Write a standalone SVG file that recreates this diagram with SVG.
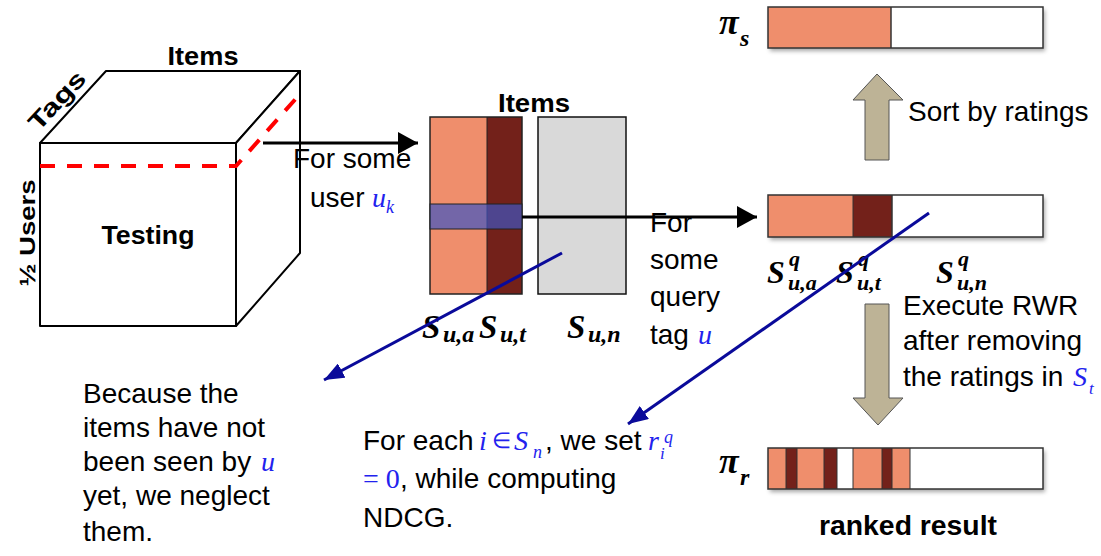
<svg xmlns="http://www.w3.org/2000/svg" width="1101" height="556" viewBox="0 0 1101 556">
<style>
.t{font-family:"Liberation Sans",Arial,sans-serif;font-size:28px;fill:#000}
.h{font-family:"Liberation Sans",Arial,sans-serif;font-weight:bold;fill:#000}
.m{font-family:"Liberation Serif","Times New Roman",serif;font-style:italic;fill:#2222EE}
.b{font-family:"Liberation Serif","Times New Roman",serif;font-style:italic;font-weight:bold;fill:#000}
.cube{fill:#fff;stroke:#000;stroke-width:2;stroke-linejoin:round}
.sal{fill:#EF8E6C}
.dk{fill:#73211A}
.bar{fill:none;stroke:#333;stroke-width:1.5}
.tan{fill:#BDB396;stroke:#555;stroke-width:1}
.blk{stroke:#000;stroke-width:3;fill:none}
.blu{stroke:#0A0A9A;stroke-width:3;fill:none}
</style>
<defs>
<marker id="ab" markerUnits="userSpaceOnUse" markerWidth="22" markerHeight="22" refX="20" refY="11" orient="auto"><path d="M0,0 L20,11 L0,22 Z" fill="#000"/></marker>
<marker id="au" markerUnits="userSpaceOnUse" markerWidth="22" markerHeight="16" refX="20" refY="8" orient="auto"><path d="M0,0 L20,8 L0,16 Z" fill="#0A0A9A"/></marker>
<filter id="sh" x="-10%" y="-30%" width="120%" height="170%"><feDropShadow dx="2" dy="3" stdDeviation="2" flood-color="#000" flood-opacity="0.35"/></filter>
</defs>

<g id="cube">
<rect class="cube" x="40" y="143" width="196" height="183"/>
<polygon class="cube" points="40,143 106,71 300,71 236,143"/>
<polygon class="cube" points="236,143 300,71 300,253 236,326"/>
<polyline points="40,166 236,166 300,94" fill="none" stroke="#FF0000" stroke-width="4" stroke-dasharray="15,12"/>
<text class="h" x="203" y="65" font-size="25" text-anchor="middle" textLength="71" lengthAdjust="spacingAndGlyphs">Items</text>
<text class="h" font-size="24" text-anchor="middle" textLength="72" lengthAdjust="spacingAndGlyphs" transform="translate(63,106) rotate(-47)">Tags</text>
<text class="h" font-size="22" text-anchor="middle" textLength="107" lengthAdjust="spacingAndGlyphs" transform="translate(35,233) rotate(-90)">½ Users</text>
<text class="h" x="148" y="244" font-size="25" text-anchor="middle" textLength="93" lengthAdjust="spacingAndGlyphs">Testing</text>
</g>

<g id="matrix">
<text class="h" x="534" y="112" font-size="25" text-anchor="middle" textLength="72" lengthAdjust="spacingAndGlyphs">Items</text>
<rect class="sal" x="430" y="117" width="57" height="177"/>
<rect class="dk" x="487" y="117" width="35" height="177"/>
<rect x="430" y="117" width="92" height="177" fill="none" stroke="#222" stroke-width="1.5"/>
<line x1="487" y1="117" x2="487" y2="294" stroke="#222" stroke-width="1"/>
<rect x="538" y="117" width="88" height="177" fill="#D9D9D9" stroke="#111" stroke-width="1.5"/>
<rect x="430" y="204" width="92" height="25" fill="#3F56C2" fill-opacity="0.7" stroke="#222" stroke-width="1"/>
<text class="b" x="422" y="338" font-size="33">S<tspan x="443" y="342" font-size="24">u,a</tspan></text>
<text class="b" x="479" y="338" font-size="33">S<tspan x="500" y="342" font-size="24">u,t</tspan></text>
<text class="b" x="567" y="338" font-size="33">S<tspan x="588" y="342" font-size="24">u,n</tspan></text>
</g>

<g id="bar-pis">
<rect x="768" y="7" width="275" height="41" fill="#fff" filter="url(#sh)"/>
<rect class="sal" x="768" y="7" width="123" height="41"/>
<line x1="891" y1="7" x2="891" y2="48" stroke="#333" stroke-width="1.5"/>
<rect class="bar" x="768" y="7" width="275" height="41"/>
<text class="b" x="719" y="34" font-size="36">π<tspan x="740" y="46" font-size="24">s</tspan></text>
</g>

<g id="bar-sq">
<rect x="768" y="195" width="275" height="42" fill="#fff" filter="url(#sh)"/>
<rect class="sal" x="768" y="195" width="85" height="42"/>
<rect class="dk" x="853" y="195" width="39" height="42"/>
<line x1="853" y1="195" x2="853" y2="237" stroke="#333" stroke-width="1"/>
<line x1="892" y1="195" x2="892" y2="237" stroke="#333" stroke-width="1.5"/>
<rect class="bar" x="768" y="195" width="275" height="42"/>
<text class="b" x="767" y="283" font-size="32">S<tspan x="789" y="266" font-size="22">q</tspan><tspan x="788" y="290" font-size="22">u,a</tspan></text>
<text class="b" x="836" y="283" font-size="32">S<tspan x="858" y="266" font-size="22">q</tspan><tspan x="857" y="290" font-size="22">u,t</tspan></text>
<text class="b" x="936" y="283" font-size="32">S<tspan x="958" y="266" font-size="22">q</tspan><tspan x="957" y="290" font-size="22">u,n</tspan></text>
</g>

<g id="bar-pir">
<rect x="768" y="448" width="275" height="41" fill="#fff" filter="url(#sh)"/>
<rect class="sal" x="768" y="448" width="18" height="41"/>
<rect class="dk" x="786" y="448" width="11" height="41"/>
<rect class="sal" x="797" y="448" width="27" height="41"/>
<rect class="dk" x="824" y="448" width="13" height="41"/>
<rect class="sal" x="853" y="448" width="29" height="41"/>
<rect class="dk" x="882" y="448" width="10" height="41"/>
<rect class="sal" x="892" y="448" width="18" height="41"/>
<path d="M786,448V489M797,448V489M824,448V489M837,448V489M853,448V489M882,448V489M892,448V489M910,448V489" stroke="#333" stroke-width="1"/>
<rect class="bar" x="768" y="448" width="275" height="41"/>
<text class="b" x="719" y="473" font-size="36">π<tspan x="740" y="485" font-size="24">r</tspan></text>
<text class="h" x="908" y="535" font-size="27" text-anchor="middle" textLength="178" lengthAdjust="spacingAndGlyphs">ranked result</text>
</g>

<g id="sort-arrow">
<polygon class="tan" points="877,74 903,100 889,100 889,160 865,160 865,100 853,100"/>
<text class="t" x="908" y="121">Sort by ratings</text>
</g>

<g id="rwr-arrow">
<polygon class="tan" points="865,304 889,304 889,398 903,398 878,425 853,398 865,398"/>
<text class="t" x="903" y="315">Execute RWR</text>
<text class="t" x="903" y="350">after removing</text>
<text class="t" x="903" y="386">the ratings in <tspan class="m" x="1073">S</tspan><tspan class="m" x="1089" y="394" font-size="17">t</tspan></text>
</g>

<g id="connectors">
<line class="blk" x1="263" y1="143" x2="418" y2="143" marker-end="url(#ab)"/>
<line class="blk" x1="522" y1="217" x2="757" y2="217" marker-end="url(#ab)"/>
<line class="blu" x1="562" y1="253" x2="324" y2="380" marker-end="url(#au)"/>
<line class="blu" x1="929" y1="213" x2="628" y2="424" marker-end="url(#au)"/>
</g>

<g id="label-user">
<text class="t" x="293" y="168">For some</text>
<text class="t" x="310" y="207">user <tspan class="m" x="372">u</tspan><tspan class="m" x="386" y="213" font-size="18">k</tspan></text>
</g>

<g id="label-tag">
<text class="t" x="650" y="232">For</text>
<text class="t" x="650" y="269">some</text>
<text class="t" x="650" y="306">query</text>
<text class="t" x="650" y="344">tag <tspan class="m" x="698">u</tspan></text>
</g>

<g id="note-neglect">
<text class="t" x="83" y="403">Because the</text>
<text class="t" x="83" y="437">items have not</text>
<text class="t" x="83" y="471">been seen by <tspan class="m" x="261">u</tspan></text>
<text class="t" x="83" y="505">yet, we neglect</text>
<text class="t" x="83" y="541">them.</text>
</g>

<g id="note-ndcg">
<text class="t" x="363" y="450">For each <tspan class="m" x="479">i</tspan><tspan x="492" y="448" font-family="Liberation Serif,serif" font-size="22" fill="#2222EE">∈</tspan><tspan class="m" x="514" y="450">S</tspan><tspan class="m" x="533" y="458" font-size="18">n</tspan><tspan x="545" y="450">, we set </tspan><tspan class="m" x="648">r</tspan><tspan class="m" x="660" y="459" font-size="17">i</tspan><tspan class="m" x="664" y="443" font-size="18">q</tspan></text>
<text class="t" x="363" y="488"><tspan font-family="Liberation Serif,serif" fill="#2222EE">= 0</tspan><tspan x="400">, while computing</tspan></text>
<text class="t" x="363" y="527">NDCG.</text>
</g>
</svg>
